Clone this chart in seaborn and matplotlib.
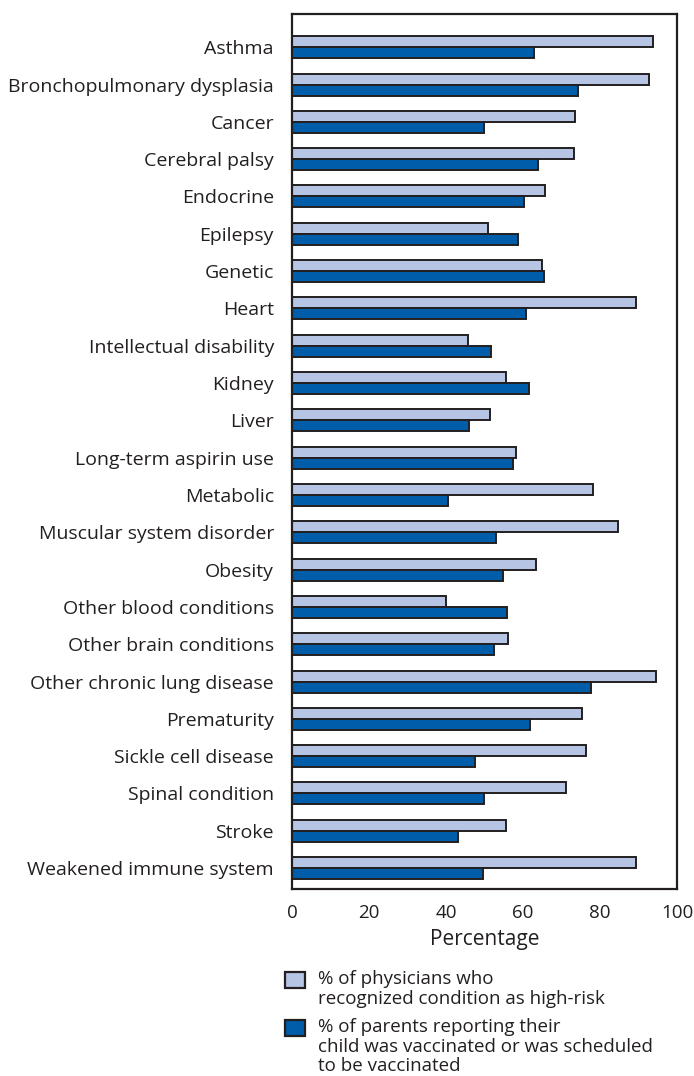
import numpy as np
import pandas as pd
import seaborn as sns
import matplotlib
matplotlib.use("Agg")
from matplotlib import pyplot as plt
from matplotlib.patches import Rectangle

conditions = [
    "Asthma", "Bronchopulmonary dysplasia", "Cancer", "Cerebral palsy",
    "Endocrine", "Epilepsy", "Genetic", "Heart", "Intellectual disability",
    "Kidney", "Liver", "Long-term aspirin use", "Metabolic",
    "Muscular system disorder", "Obesity", "Other blood conditions",
    "Other brain conditions", "Other chronic lung disease", "Prematurity",
    "Sickle cell disease", "Spinal condition", "Stroke",
    "Weakened immune system",
]
physicians = [93.8, 92.8, 73.5, 73.3, 65.7, 51.0, 64.9, 89.3, 45.6, 55.7,
              51.4, 58.3, 78.1, 84.6, 63.5, 40.0, 56.0, 94.5, 75.2, 76.3,
              71.1, 55.7, 89.3]
parents = [62.9, 74.4, 49.8, 63.8, 60.2, 58.8, 65.5, 60.9, 51.6, 61.6,
           45.9, 57.5, 40.6, 53.1, 54.7, 55.9, 52.5, 77.6, 61.8, 47.5,
           49.8, 43.0, 49.5]
series_labels = [
    "% of physicians who\nrecognized condition as high-risk",
    "% of parents reporting their\nchild was vaccinated or was scheduled\nto be vaccinated",
]
series_colors = ["#b7c5e4", "#005daa"]
xticks = [0, 20, 40, 60, 80, 100]

df = pd.DataFrame({
    "condition": conditions * 2,
    "value": physicians + parents,
    "series": [series_labels[0]] * len(conditions) + [series_labels[1]] * len(conditions),
})

ink = "#231f20"
W, H = 694, 1076

sns.set_style("white")
plt.rcParams["font.family"] = ["Open Sans", "DejaVu Sans"]

fig = plt.figure(figsize=(W / 100, H / 100), dpi=100)
ax = fig.add_axes([292 / W, 1 - 889 / H, 385 / W, 875 / H])

sns.barplot(data=df, y="condition", x="value", hue="series", order=conditions,
            hue_order=series_labels, palette=series_colors, orient="h",
            width=0.59, edgecolor=ink, linewidth=1.4, saturation=1,
            errorbar=None, legend=False, ax=ax)

ax.set_xlim(0, 100)
ax.set_ylim(len(conditions) - 1 + 0.56, -0.89)
ax.set_xticks(xticks)
ax.set_xlabel("Percentage", fontsize=15, labelpad=5, color=ink)
ax.set_ylabel("")
for s in ax.spines.values():
    s.set_linewidth(1.6)
    s.set_color(ink)
ax.tick_params(axis="y", direction="out", length=7, width=1.6, color=ink,
               labelsize=14, labelcolor=ink, pad=6)
ax.tick_params(axis="x", direction="out", length=6.5, width=1.6, color=ink,
               labelsize=13.5, labelcolor=ink, pad=4)

# legend drawn by hand so the swatch sits on the first text line
entry_tops = [972, 1020]
for top, color, label in zip(entry_tops, series_colors, series_labels):
    fig.patches.append(Rectangle((285 / W, 1 - (top + 16) / H), 20 / W, 16 / H,
                                 transform=fig.transFigure, facecolor=color,
                                 edgecolor=ink, linewidth=1.6))
    fig.text(318 / W, 1 - (top - 2) / H, label, fontsize=13.5, color=ink,
             va="top", ha="left", linespacing=1.12)

fig.savefig("out.png", dpi=100)
